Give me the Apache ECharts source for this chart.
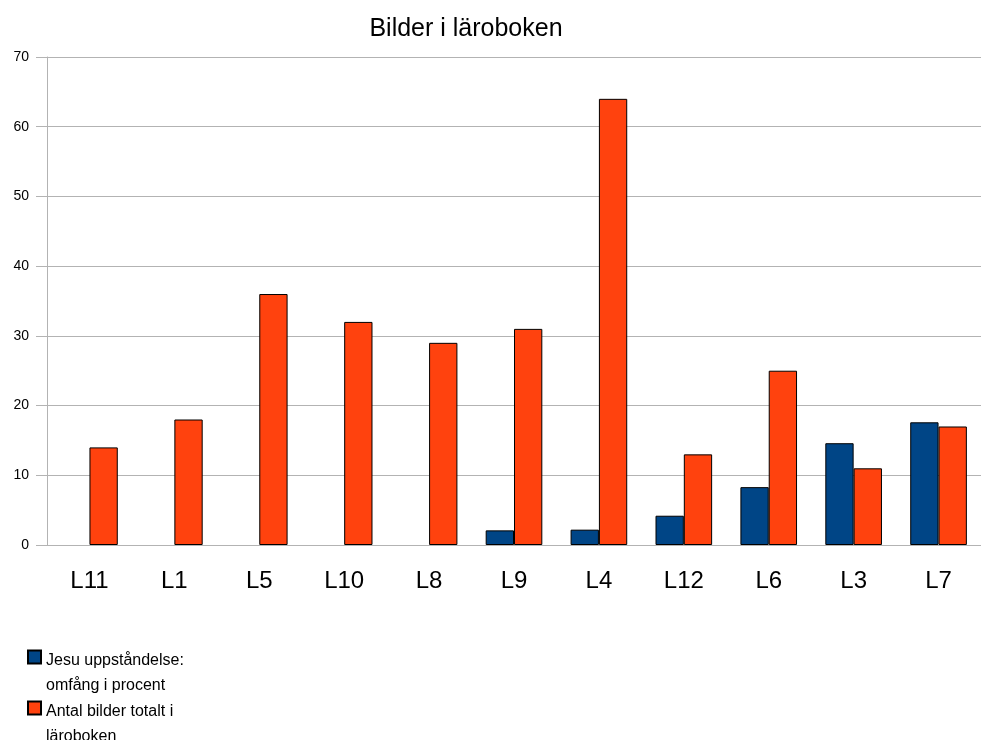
<!doctype html>
<html>
<head>
<meta charset="utf-8">
<script src="https://cdn.jsdelivr.net/npm/echarts@6/dist/echarts.min.js"></script>
<style>
  body { margin: 0; background: #fff; }
  #chart { width: 981px; height: 740px; }
</style>
</head>
<body>
<div id="chart"></div>
<script>
// Bilder i läroboken
var categories = ['L11', 'L1', 'L5', 'L10', 'L8', 'L9', 'L4', 'L12', 'L6', 'L3', 'L7'];
var procent = [null, null, null, null, null, 2.1, 2.2, 4.2, 8.3, 14.6, 17.6];
var bilder = [14, 18, 36, 32, 29, 31, 64, 13, 25, 11, 17];
var yTicks = [0, 10, 20, 30, 40, 50, 60, 70];
var seriesNames = ['Jesu uppståndelse:\nomfång i procent', 'Antal bilder totalt i\nläroboken'];

var chart = echarts.init(document.getElementById('chart'));
var font = 'Liberation Sans, Arial, sans-serif';

// one legend per entry; a spacer line keeps the icon next to the first text line
function legendAt(name, top) {
    return {
        left: 22,
        top: top,
        itemWidth: 13,
        itemHeight: 13,
        icon: 'rect',
        data: [name],
        formatter: function (n) {
            return '{s| }\n' + n.split('\n').map(function (l) { return '{t|' + l + '}'; }).join('\n');
        },
        textStyle: {
            fontFamily: font, fontSize: 16, color: '#000',
            rich: {
                s: { lineHeight: 33, fontSize: 16 },
                t: { lineHeight: 25, fontSize: 16, fontFamily: font, color: '#000' }
            }
        }
    };
}

chart.setOption({
    animation: false,
    title: {
        text: 'Bilder i läroboken',
        left: 461,
        top: 12,
        textAlign: 'center',
        textStyle: { fontFamily: font, fontSize: 25, fontWeight: 'normal', color: '#000' }
    },
    legend: [legendAt(seriesNames[0], 619), legendAt(seriesNames[1], 670)],
    grid: { left: 47, top: 57, width: 946, height: 488 },
    xAxis: {
        type: 'category',
        data: categories,
        axisLine: { lineStyle: { color: '#b3b3b3' } },
        axisTick: { length: 11, lineStyle: { color: '#b3b3b3' } },
        axisLabel: { fontFamily: font, fontSize: 24, color: '#000', margin: 24 }
    },
    yAxis: {
        type: 'value',
        min: yTicks[0],
        max: yTicks[yTicks.length - 1],
        interval: 10,
        axisLine: { show: true, lineStyle: { color: '#b3b3b3' } },
        axisTick: { show: true, length: 11, lineStyle: { color: '#b3b3b3' } },
        axisLabel: { fontFamily: font, fontSize: 14, color: '#000', margin: 18 },
        splitLine: { lineStyle: { color: '#b3b3b3' } }
    },
    series: [{
        name: seriesNames[0],
        type: 'bar',
        data: procent,
        barGap: '0%',
        barCategoryGap: '33.3%',
        itemStyle: { color: '#004586', borderColor: '#000', borderWidth: 1 }
    }, {
        name: seriesNames[1],
        type: 'bar',
        data: bilder,
        itemStyle: { color: '#ff420e', borderColor: '#000', borderWidth: 1 }
    }]
});
</script>
</body>
</html>
